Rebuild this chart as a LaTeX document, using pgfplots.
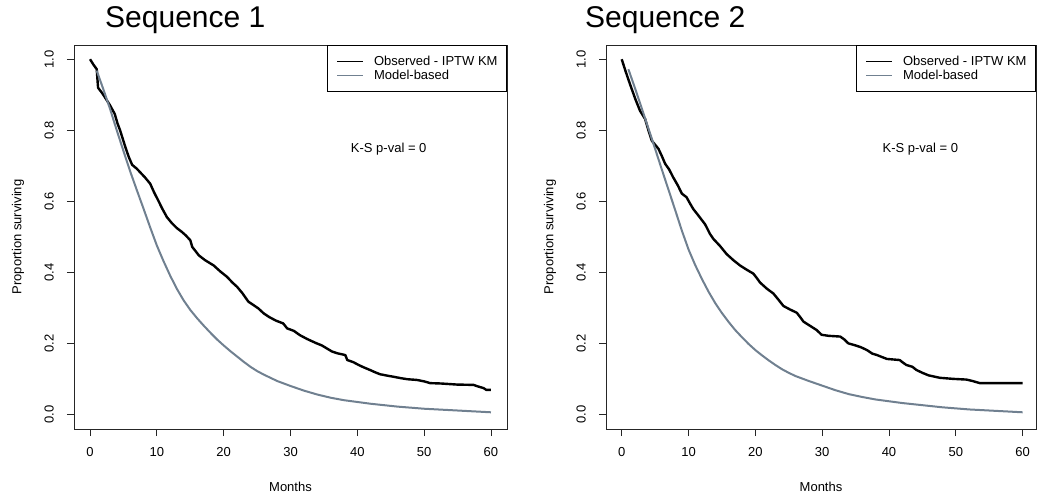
\documentclass[border=0pt]{standalone}
\usepackage{fontspec}
\setmainfont{Liberation Sans}
\usepackage{pgfplots}
\pgfplotsset{compat=1.18}
\definecolor{modelc}{HTML}{708090}
\newcommand{\lbl}{\fontsize{13}{15}\selectfont}
\pgfplotsset{
 kmaxis/.style={
  scale only axis, height=384pt,
  ymin=-0.04, ymax=1.04,
  axis line style={line width=0.9pt, black!85},
  tick align=outside, tick pos=left, major tick length=7pt,
  every tick/.style={line width=0.9pt, black!85},
  xtick={0,10,20,30,40,50,60}, ytick={0,0.2,0.4,0.6,0.8,1},
  /pgf/number format/assume math mode=true,
  ticklabel style={font=\lbl},
  yticklabel style={rotate=90, anchor=south, inner sep=0pt,
     /pgf/number format/fixed, /pgf/number format/fixed zerofill, /pgf/number format/precision=1},
  xticklabel style={inner sep=0pt},
  yticklabel shift=13pt, xticklabel shift=11pt,
  xlabel={Months}, ylabel={Proportion surviving},
  xlabel style={at={(axis description cs:0.5,-0.1503)}, anchor=center, font=\lbl},
  legend style={at={(rel axis cs:1,1)}, anchor=north east, draw=black, line width=0.9pt,
     font=\lbl, inner xsep=9pt, inner ysep=10.5pt, row sep=3pt,
     nodes={inner sep=0pt},
     /tikz/every odd column/.append style={column sep=10pt}},
  legend cell align=left,
  legend image code/.code={\draw[#1, line width=1.1pt] (0pt,0pt) -- (26pt,0pt);},
 }
}
\begin{document}
\begin{tikzpicture}
\useasboundingbox (0,0) rectangle (1037pt,-497pt);
\node[anchor=base west, font=\fontsize{30}{36}\selectfont, inner sep=0pt] at (105pt,-28pt) {Sequence 1};
\node[anchor=base west, font=\fontsize{30}{36}\selectfont, inner sep=0pt] at (585pt,-28pt) {Sequence 2};
% ---------------- Sequence 1 ----------------
\begin{axis}[kmaxis, at={(74pt,-429pt)}, anchor=south west, width=433pt,
  xmin=-2.4, xmax=62.4,
  ylabel style={at={(axis description cs:-0.1293,0.5)}, anchor=center, font=\lbl}]
\addplot[black, line width=2.4pt, line join=round] coordinates {
(0,1.0)(0.5,0.985)(1.0,0.972)(1.2,0.92)(1.8,0.905)(2.5,0.885)(3.0,0.87)(3.7,0.846)(4.1,0.82)(4.5,0.80)(5.0,0.77)(5.3,0.752)(5.8,0.725)(6.3,0.703)(7.0,0.692)(7.5,0.682)(8.2,0.668)(9.0,0.650)(9.6,0.625)(10.2,0.603)(10.8,0.58)(11.5,0.556)(12.2,0.54)(13.0,0.525)(13.7,0.515)(14.3,0.505)(15.0,0.491)(15.3,0.472)(16.3,0.448)(17.2,0.435)(18.5,0.42)(19.5,0.403)(20.5,0.388)(21.3,0.372)(22.0,0.360)(22.8,0.342)(23.7,0.318)(24.5,0.308)(25.2,0.299)(26.0,0.285)(26.8,0.275)(27.8,0.265)(28.9,0.257)(29.5,0.243)(30.5,0.236)(31.4,0.224)(32.5,0.213)(33.9,0.201)(34.7,0.195)(35.4,0.187)(36.2,0.178)(37.0,0.173)(38.2,0.168)(38.5,0.154)(39.4,0.148)(40.2,0.140)(41.0,0.133)(41.9,0.126)(42.6,0.120)(43.4,0.114)(44.5,0.110)(45.4,0.107)(46.5,0.103)(47.5,0.100)(48.9,0.098)(50.0,0.094)(50.9,0.089)(52.5,0.088)(54.9,0.085)(57.4,0.084)(58.0,0.080)(58.9,0.075)(59.3,0.070)(60,0.070)};
\addlegendentry{Observed - IPTW KM}
\addplot[modelc, line width=2pt, line join=round] coordinates {
(1.0,0.968)(2,0.915)(3,0.86)(4,0.80)(5,0.742)(6,0.685)(7,0.632)(8,0.58)(9,0.527)(10,0.476)(11,0.432)(12,0.391)(13,0.354)(14,0.322)(15,0.295)(16,0.272)(17,0.251)(18,0.231)(19,0.212)(20,0.195)(21,0.179)(22,0.164)(23,0.149)(24,0.135)(25,0.123)(26,0.113)(28,0.095)(30,0.081)(32,0.068)(34,0.057)(36,0.048)(38,0.041)(40,0.036)(42,0.031)(44,0.027)(46,0.023)(48,0.020)(50,0.017)(52,0.015)(54,0.013)(56,0.011)(58,0.009)(60,0.007)};
\addlegendentry{Model-based}
\node[font=\lbl] at (axis cs:44.7,0.746) {K-S p-val = 0};
\end{axis}
% ---------------- Sequence 2 ----------------
\begin{axis}[kmaxis, at={(606pt,-429pt)}, anchor=south west, width=430pt,
  xmin=-2.35, xmax=62.0,
  ylabel style={at={(axis description cs:-0.1302,0.5)}, anchor=center, font=\lbl}]
\addplot[black, line width=2.4pt, line join=round] coordinates {
(0,1.0)(0.6,0.965)(1.24,0.93)(2.0,0.89)(2.74,0.855)(3.5,0.832)(4.0,0.80)(4.5,0.771)(5.5,0.748)(6.0,0.728)(6.5,0.706)(7.1,0.69)(7.7,0.668)(8.4,0.645)(9.0,0.622)(9.7,0.612)(10.2,0.595)(10.7,0.579)(11.7,0.555)(12.5,0.535)(13.2,0.509)(13.7,0.495)(14.7,0.475)(15.7,0.452)(16.7,0.435)(17.7,0.42)(18.7,0.408)(19.7,0.397)(20.2,0.385)(20.7,0.372)(21.7,0.355)(22.7,0.341)(23.4,0.325)(24.2,0.306)(25.2,0.296)(26.2,0.287)(26.7,0.275)(27.2,0.262)(28.2,0.25)(29.2,0.238)(29.9,0.225)(31.0,0.222)(32.7,0.220)(33.3,0.212)(33.9,0.201)(35.0,0.195)(35.8,0.19)(36.7,0.182)(37.5,0.172)(38.2,0.168)(39.0,0.162)(39.7,0.157)(41.6,0.154)(42.0,0.148)(42.6,0.140)(43.5,0.135)(44.1,0.126)(45.0,0.118)(45.9,0.111)(47.6,0.104)(49.6,0.101)(51.6,0.099)(52.5,0.095)(53.6,0.089)(60,0.089)};
\addlegendentry{Observed - IPTW KM}
\addplot[modelc, line width=2pt, line join=round] coordinates {
(1,0.972)(2,0.918)(3,0.862)(4,0.805)(5,0.748)(6,0.69)(7,0.633)(8,0.576)(9,0.518)(10,0.465)(11,0.421)(12,0.382)(13,0.346)(14,0.314)(15,0.286)(16,0.261)(17,0.238)(18,0.218)(19,0.199)(20,0.182)(21,0.167)(22,0.153)(23,0.140)(24,0.128)(25,0.118)(26,0.109)(28,0.095)(30,0.082)(32,0.069)(34,0.058)(36,0.050)(38,0.043)(40,0.038)(42,0.033)(44,0.029)(46,0.025)(48,0.021)(50,0.018)(52,0.015)(54,0.013)(56,0.011)(58,0.009)(60,0.007)};
\addlegendentry{Model-based}
\node[font=\lbl] at (axis cs:44.7,0.746) {K-S p-val = 0};
\end{axis}
\end{tikzpicture}
\end{document}
